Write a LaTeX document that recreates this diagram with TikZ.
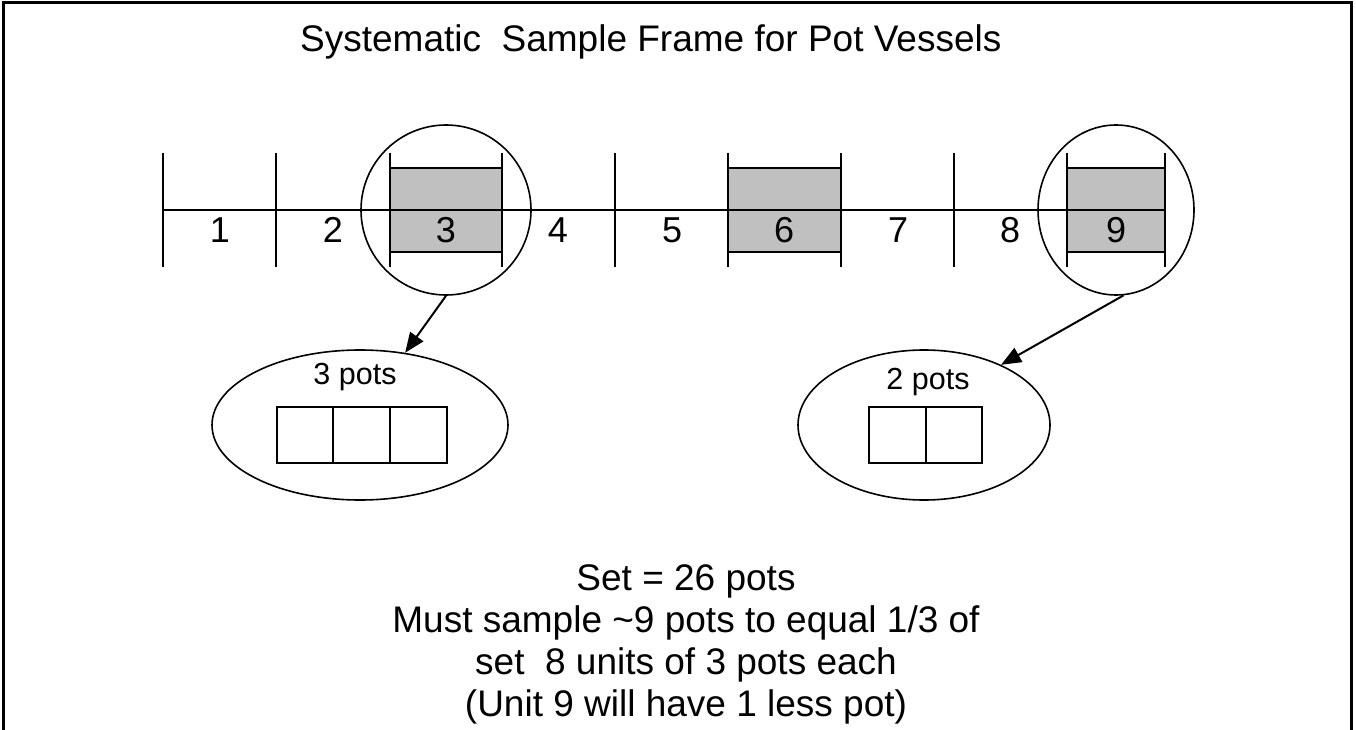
\documentclass[tikz,border=0pt]{standalone}
\usepackage{fontspec}
\setmainfont{Liberation Sans}
\usetikzlibrary{shapes.geometric,arrows.meta}
\definecolor{boxgray}{HTML}{C0C0C0}
\begin{document}
\begin{tikzpicture}[x=1pt,y=-1pt,
  num/.style={font=\fontsize{36}{40}\selectfont, anchor=base, inner sep=0pt},
  small/.style={font=\fontsize{30.5}{34}\selectfont, anchor=base, inner sep=0pt},
  big/.style={font=\fontsize{37}{42}\selectfont, anchor=base, inner sep=0pt},
  ring/.style={draw, line width=1.6pt, ellipse, inner sep=0pt},
  pot/.style={draw, line width=2pt},
  arr/.style={line width=2pt, -{Triangle[length=20pt,width=16pt]}}
]
\useasboundingbox (0,0) rectangle (1356,730);
% frame
\draw[line width=3pt] (3,730) -- (3,3) -- (1351,3) -- (1351,730);
% title
\node[font=\fontsize{37}{42}\selectfont, anchor=base west, inner sep=0pt] (title) at (300,52) {Systematic\ \ Sample Frame for Pot Vessels};
% grey boxes
\fill[boxgray] (390,168) rectangle (502,252);
\fill[boxgray] (728,168) rectangle (841,252);
\fill[boxgray] (1067,168) rectangle (1165,252);
% main line
\draw[line width=2pt] (163,210) -- (1165,210);
% ticks
\foreach \x in {163,276,390,502,615,728,841,954,1067,1165}
  \draw[line width=2pt] (\x,153) -- (\x,267);
% box edges
\foreach \a/\b in {390/502,728/841,1067/1165}{
  \draw[line width=2pt] (\a,168) -- (\b,168);
  \draw[line width=2pt] (\a,252) -- (\b,252);
}
% labels
\node[num] (n1) at (220,242) {1};
\node[num] (n2) at (333,242) {2};
\node[num] (n3) at (446,242) {3};
\node[num] (n4) at (558,242) {4};
\node[num] (n5) at (672,242) {5};
\node[num] (n6) at (784,242) {6};
\node[num] (n7) at (898,242) {7};
\node[num] (n8) at (1010,242) {8};
\node[num] (n9) at (1116,242) {9};
% rings
\node[ring, minimum width=170pt, minimum height=170pt] (c3) at (446,210) {};
\node[ring, minimum width=156pt, minimum height=170pt] (c9) at (1116,210) {};
% ellipses
\node[ring, minimum width=296pt, minimum height=150pt] (e1) at (360,425) {};
\node[ring, minimum width=252pt, minimum height=150pt] (e2) at (924,425) {};
\node[small] (l1) at (355,384) {3 pots};
\node[small] (l2) at (928,389) {2 pots};
% pots
\draw[pot] (277,407) rectangle (447,463);
\draw[pot] (333,407) -- (333,463);
\draw[pot] (390,407) -- (390,463);
\draw[pot] (869,407) rectangle (982,463);
\draw[pot] (926,407) -- (926,463);
% arrows
\draw[arr] (c3.-90) -- (e1.58);
\draw[arr] (c9.-85) -- (e2.38);
% bottom text
\node[big] (t1) at (686,590) {Set = 26 pots};
\node[big] (t2) at (686,632) {Must sample \textasciitilde9 pots to equal 1/3 of};
\node[big] (t3) at (686,674) {set\ \ 8 units of 3 pots each};
\node[big] (t4) at (686,716) {(Unit 9 will have 1 less pot)};
\end{tikzpicture}
\end{document}
